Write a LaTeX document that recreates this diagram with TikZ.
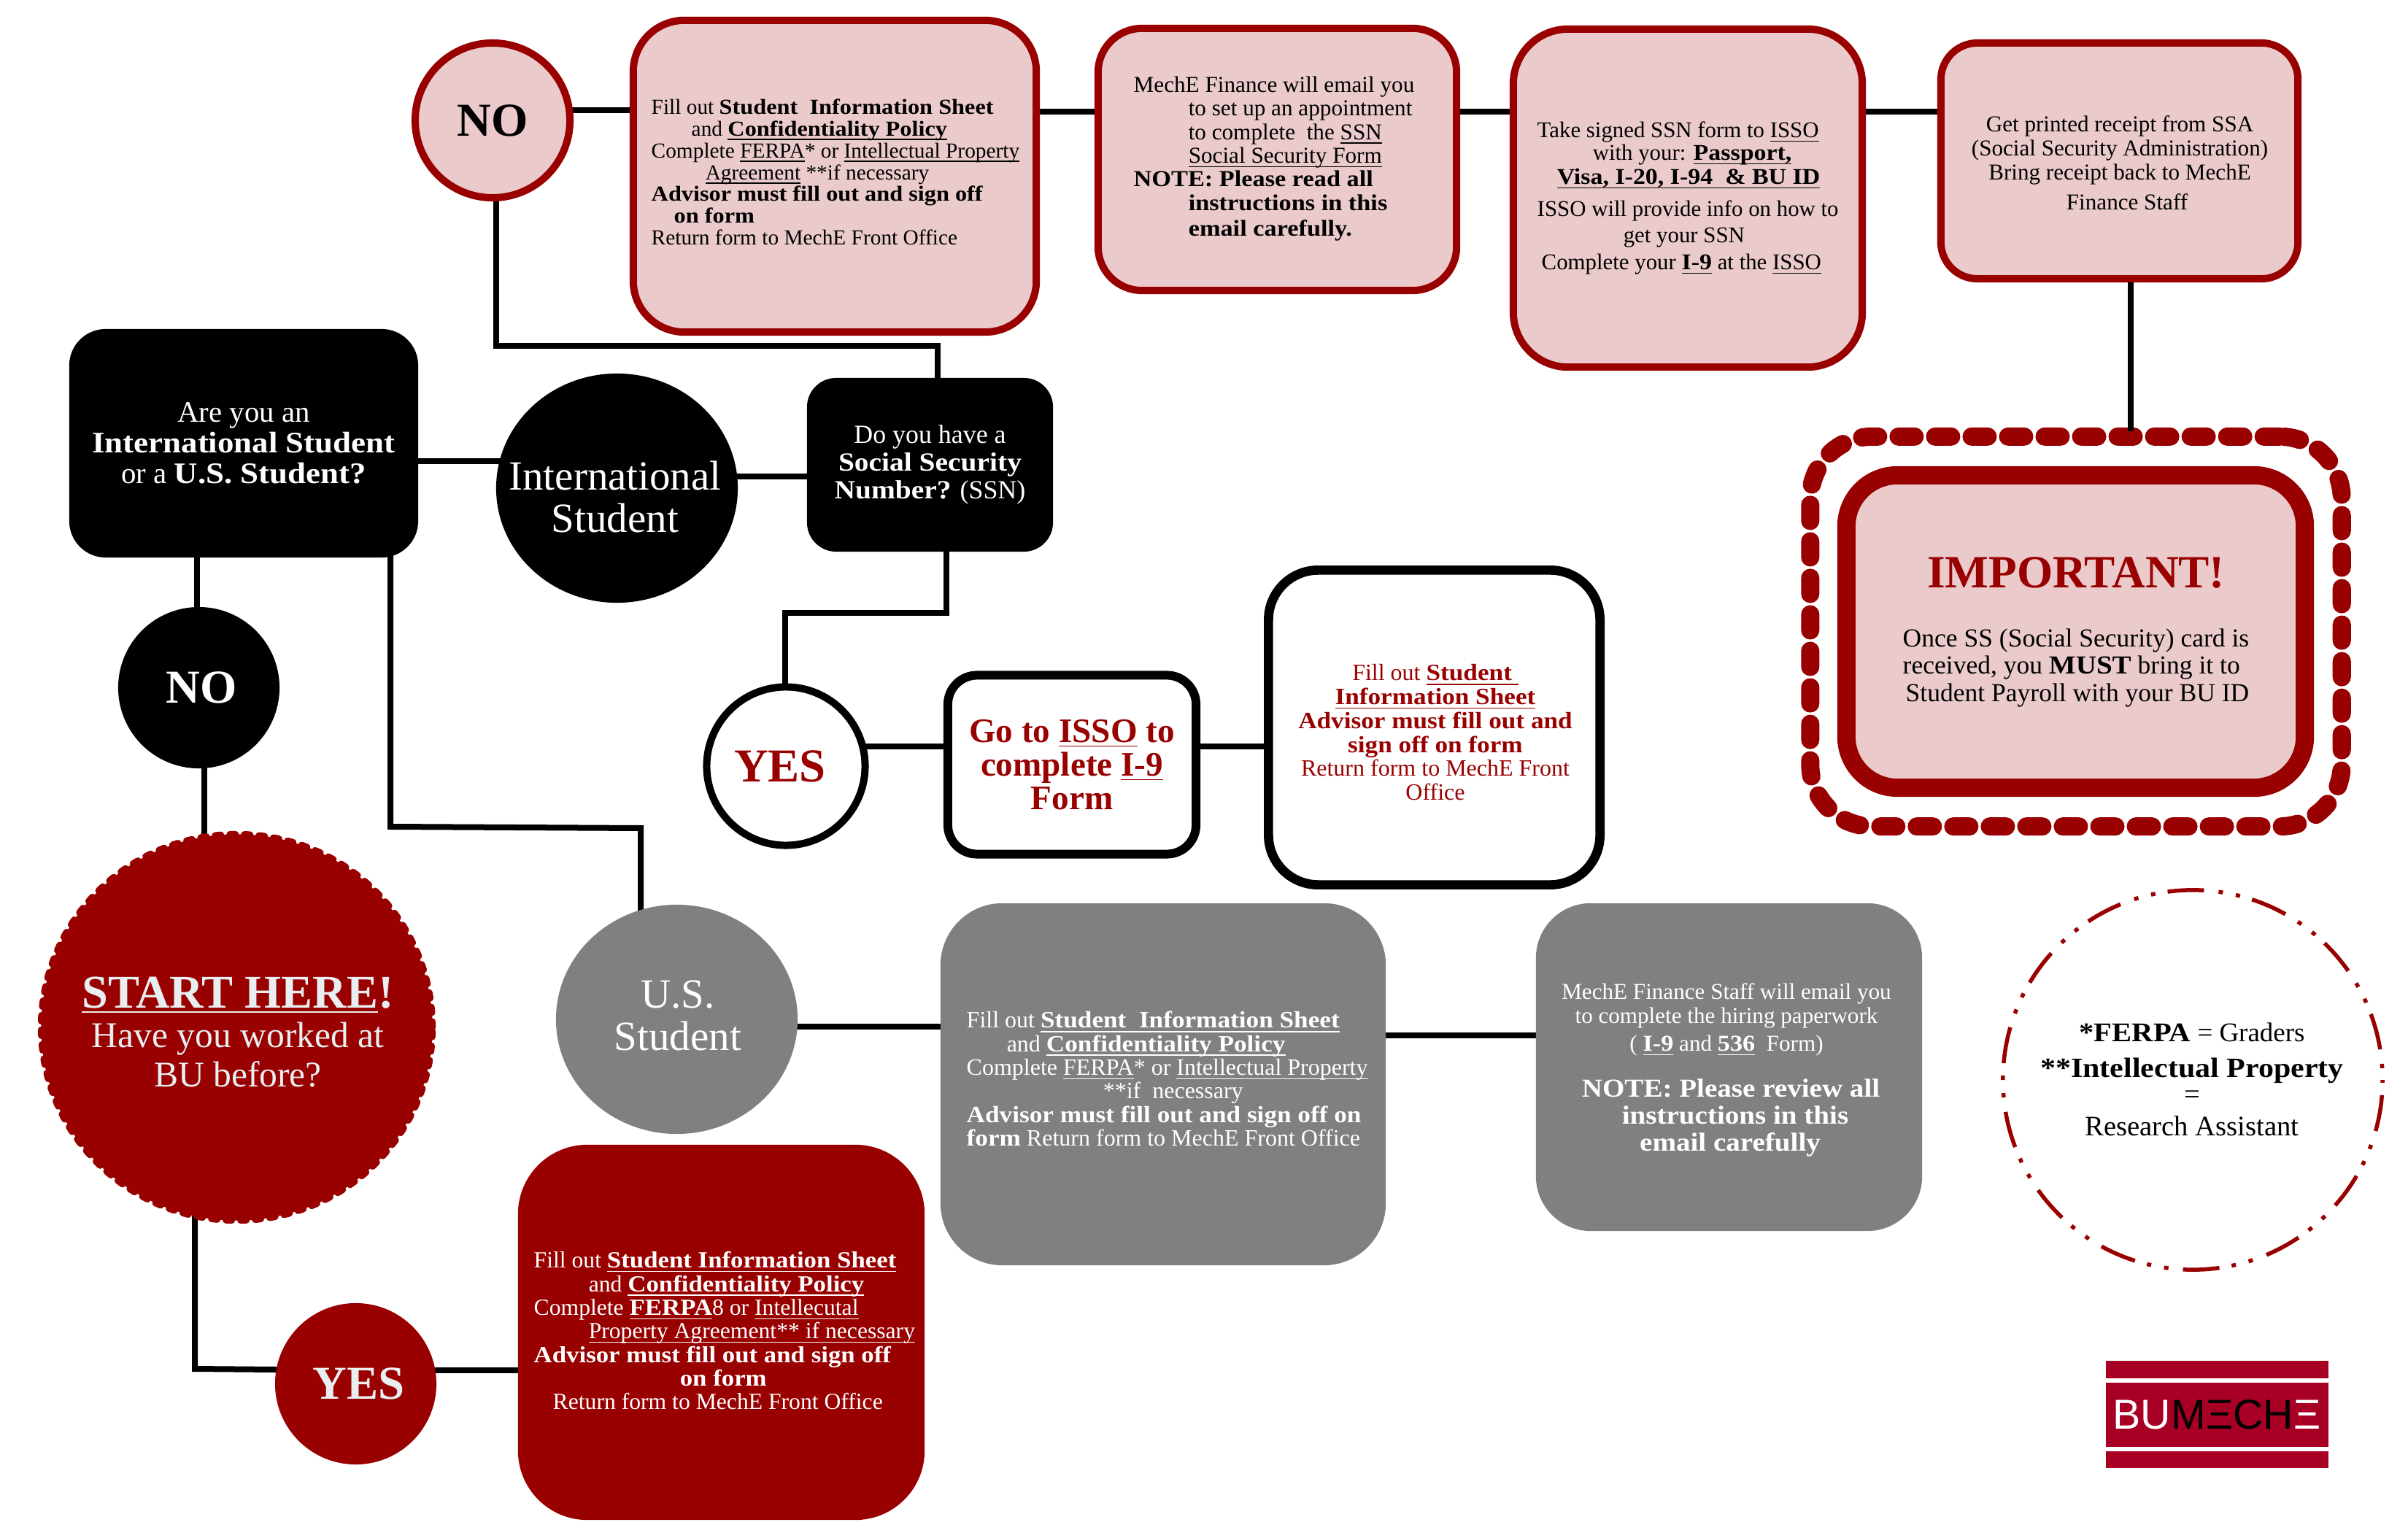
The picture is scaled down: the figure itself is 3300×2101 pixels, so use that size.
\documentclass[tikz,border=0pt]{standalone}
\usepackage{fontspec}
\setmainfont{Liberation Serif}[BoldFeatures={FakeStretch=1.1}]
\setsansfont{Liberation Sans}
\newfontfamily\plainrm{Liberation Serif}
\usetikzlibrary{shapes.geometric,backgrounds}
\definecolor{cred}{HTML}{990000}
\definecolor{cpink}{HTML}{EACACB}
\definecolor{cgray}{HTML}{808080}
\definecolor{clogo}{HTML}{A80024}
\definecolor{csnow}{HTML}{E9EEF0}
\newcommand{\fs}[2]{\fontsize{#1}{#2}\selectfont\lineskiplimit=-20pt\relax}
\newcommand{\ul}[1]{\underline{\smash{#1}}}

\begin{document}
\begin{tikzpicture}[x=0.01cm,y=-0.01cm,
  pink node/.style={rectangle,fill=cpink,draw=cred,line width=0.1cm},
  black node/.style={rectangle,fill=black,text=white,inner sep=0},
  gray node/.style={rectangle,fill=cgray,text=white,inner sep=0},
  round node/.style={circle,inner sep=0,minimum size=2.21cm,font=\fs{18.4}{20}\plainrm\bfseries},
  big node/.style={ellipse,inner sep=0,minimum width=3.31cm,minimum height=3.14cm},
  big text/.style={inner sep=0,align=center,font=\fs{16.2}{16.4}},
  body/.style={inner sep=0,align=left,anchor=north west},
  wire/.style={line width=0.08cm}]

  \useasboundingbox (0,0) rectangle (3300,2101);

  % top row
  \node[round node,fill=cpink,draw=cred,line width=0.1cm,minimum size=2.12cm] (no1) at (675,165) {NO};
  \node[pink node,minimum width=5.52cm,minimum height=4.27cm,rounded corners=0.7cm] (form) at (1144,241.5) {};
  \node[pink node,minimum width=4.91cm,minimum height=3.59cm,rounded corners=0.6cm] (mail) at (1750.5,218.5) {};
  \node[pink node,minimum width=4.78cm,minimum height=4.63cm,rounded corners=0.75cm] (ssnform) at (2313,271.5) {};
  \node[pink node,minimum width=4.89cm,minimum height=3.23cm,rounded corners=0.5cm] (receipt) at (2904.5,220.5) {};

  \node[body,font=\fs{8.35}{8.5}] (formtext) at (892,135) {Fill out \textbf{Student\ \ Information Sheet}\\
    \hspace*{0.55cm}and \textbf{\ul{Confidentiality Policy}}\\
    Complete \ul{FERPA}* or \ul{Intellectual Property}\\
    \hspace*{0.74cm}\ul{Agreement} **if necessary\\
    \textbf{Advisor must fill out and sign off}\\
    \hspace*{0.31cm}\textbf{on form}\\
    Return form to MechE Front Office};
  \node[body,font=\fs{8.87}{9.2}] (mailtext) at (1553,104) {MechE Finance will email you\\
    \hspace*{0.75cm}to set up an appointment\\
    \hspace*{0.75cm}to complete\ \ the \ul{SSN}\\
    \hspace*{0.75cm}\ul{Social Security Form}\\
    \textbf{NOTE: Please read all}\\
    \hspace*{0.75cm}\textbf{instructions in this}\\[1pt]
    \hspace*{0.75cm}\textbf{email carefully.}};
  \node[body,font=\fs{8.77}{9.4}] (ssntext) at (2106,166) {Take signed SSN form to \ul{ISSO}\\[-0.6pt]
    \hspace*{0.76cm}with your: \textbf{\ul{Passport,}}\\
    \hspace*{0.27cm}\textbf{\ul{Visa, I-20, I-94\ \ \& BU ID}}\\[3.1pt]
    ISSO will provide info on how to\\[1pt]
    \hspace*{1.18cm}get your SSN\\[1pt]
    \hspace*{0.06cm}Complete your \textbf{\ul{I-9}} at the \ul{ISSO}};
  \node[body,align=center,anchor=north,font=\fs{8.85}{9.4}] (receipttext) at (2905,158) {Get printed receipt from SSA\\
    (Social Security Administration)\\
    Bring receipt back to MechE\\[2.3pt]
    \hspace*{0.2cm}Finance Staff};

  % important card
  \node[pink node,line width=0.25cm,minimum width=6.28cm,minimum height=4.28cm,rounded corners=0.7cm] (card) at (2844.5,865.5) {};
  \node[rectangle,draw=cred,line width=0.25cm,line cap=round,dash pattern=on 0.22cm off 0.28cm,minimum width=7.28cm,minimum height=5.34cm,rounded corners=0.85cm] (ring) at (2845,865.5) {};
  \node[inner sep=0,text=cred,font=\fs{18}{18}\plainrm\bfseries] (cardhead) at (2845,785) {IMPORTANT!};
  \node[body,font=\fs{10.1}{10.67}] (cardtext) at (2607,861) {Once SS (Social Security) card is\\
    received, you \textbf{MUST} bring it to\\
    \hspace*{0.04cm}Student Payroll with your BU ID};

  % left column
  \node[black node,minimum width=4.78cm,minimum height=3.13cm,rounded corners=0.5cm,align=center,font=\fs{11.6}{12}] (ask) at (334,607.5) {Are you an\\\textbf{International Student}\\or a \textbf{U.S. Student?}};
  \node[big node,fill=black] (intl) at (845.5,669) {};
  \node[big text,text=white] (intltext) at (843,681) {International\\Student};
  \node[black node,minimum width=3.37cm,minimum height=2.38cm,rounded corners=0.4cm,align=center,font=\fs{10.2}{10.8}] (ssn) at (1274.5,637) {Do you have a\\\textbf{Social Security}\\\textbf{Number?} (SSN)};
  \node[round node,fill=black,text=white] (no2) at (272.5,942.5) {\hspace*{0.08cm}NO};
  \node[ellipse,fill=cred,draw=cred,line width=0.09cm,line cap=round,dash pattern=on 0.08cm off 0.12cm,inner sep=0,minimum width=5.36cm,minimum height=5.29cm] (start) at (324.5,1408) {};
  \node[inner sep=0,align=center,text=csnow,font=\fs{14.1}{15.3}] (starttext) at (326,1415) {{\fs{18.3}{15.3}\plainrm\bfseries\ul{START HERE}!}\\Have you worked at\\BU before?};
  \node[round node,fill=cred,text=csnow] (yes2) at (487.5,1896.5) {\hspace*{0.08cm}YES};
  \node[rectangle,fill=cred,text=white,minimum width=5.57cm,minimum height=5.14cm,rounded corners=0.95cm] (redbox) at (988.5,1826) {};
  \node[body,text=white,font=\fs{9}{9.2}] (redtext) at (731,1715) {Fill out \textbf{\ul{Student Information Sheet}}\\
    \hspace*{0.75cm}and \textbf{\ul{Confidentiality Policy}}\\
    Complete \textbf{\ul{FERPA}}8 or \ul{Intellecutal}\\
    \hspace*{0.75cm}\ul{Property Agreement** if necessary}\\
    \textbf{Advisor must fill out and sign off}\\
    \hspace*{2cm}\textbf{on form}\\
    \hspace*{0.26cm}Return form to MechE Front Office};

  % middle
  \node[round node,fill=white,draw=black,line width=0.1cm,text=cred,minimum size=2.17cm] (yes1) at (1077,1050) {YES\hspace*{0.16cm}};
  \node[rectangle,fill=white,draw=black,line width=0.12cm,minimum width=3.4cm,minimum height=2.45cm,rounded corners=0.4cm,align=center,text=cred,font=\fs{13.4}{13.1}\plainrm\bfseries] (go) at (1469,1048) {Go to \ul{ISSO} to\\complete \ul{I-9}\\Form};
  \node[rectangle,fill=white,draw=black,line width=0.127cm,minimum width=4.54cm,minimum height=4.31cm,rounded corners=0.68cm] (isso) at (1965.5,997) {};
  \node[body,align=center,anchor=north,text=cred,font=\fs{9.1}{9.3}] (issotext) at (1967,910) {Fill out \textbf{\ul{Student\ }}\\
    \textbf{\ul{Information Sheet}}\\
    \textbf{Advisor must fill out and}\\
    \textbf{sign off on form}\\
    Return form to MechE Front\\
    Office};

  % U.S. branch
  \node[big node,fill=cgray] (us) at (927.5,1397) {};
  \node[big text,text=white] (ustext) at (929,1392) {U.S.\\Student};
  \node[gray node,minimum width=6.1cm,minimum height=4.96cm,rounded corners=0.85cm] (fill1) at (1594,1486) {};
  \node[gray node,minimum width=5.29cm,minimum height=4.49cm,rounded corners=0.75cm] (fill2) at (2369.5,1462.5) {};
  \node[body,text=white,font=\fs{9.1}{9.2}] (fill1text) at (1324,1386) {Fill out \textbf{\ul{Student\ \ Information Sheet}}\\
    \hspace*{0.55cm}and \textbf{\ul{Confidentiality Policy}}\\
    Complete \ul{FERPA}* or \ul{Intellectual Property}\\
    \hspace*{1.87cm}{**}if\ \ necessary\\
    \textbf{Advisor must fill out and sign off on}\\
    \textbf{form} Return form to MechE Front Office};
  \node[body,align=center,anchor=north,text=white,font=\fs{8.85}{9.4}] (fill2text) at (2366,1347) {MechE Finance Staff will email you\\
    to complete the hiring paperwork\hspace*{0.16cm}\\[1.4pt]
    ( \textbf{\ul{I-9}} and \textbf{\ul{536}}\ \ Form)\\[8.5pt]
    {\fs{10.1}{9.4}\hspace*{0.12cm}\textbf{NOTE: Please review all}}\\[1.1pt]
    {\fs{10.1}{9.4}\hspace*{0.24cm}\textbf{instructions in this}}\\[1.1pt]
    {\fs{10.1}{9.4}\hspace*{0.1cm}\textbf{email carefully}}};

  % notes
  \node[circle,draw=cred,line width=0.055cm,dash pattern=on 0.5cm off 0.17cm on 0.06cm off 0.18cm on 0.06cm off 0.2cm,dash phase=0.75cm,inner sep=0,minimum size=5.2cm] (note) at (3005,1480) {};
  \node[body,align=center,anchor=north,font=\fs{11}{10.2}] (notetext) at (3004,1401) {{\fs{10.5}{10.2}\textbf{*FERPA} = Graders}\\[3.7pt]
    {\fs{10.86}{10.2}\textbf{{**}Intellectual Property}}\\
    =\\[2.3pt]
    Research Assistant};

  % logo
  \node[rectangle,fill=clogo,inner sep=0,minimum width=3.05cm,minimum height=1.47cm] (logo) at (3038.5,1938.5) {};
  \fill[white] (logo.west |- 0,1889) rectangle (logo.east |- 0,1895);
  \fill[white] (logo.west |- 0,1983) rectangle (logo.east |- 0,1989);
  \node[inner sep=0,font=\fs{16.3}{17}\sffamily] (logotext) at (3038,1938.5) {\textcolor{white}{BU}MΞCH\textcolor{white}{Ξ}};

  % connectors
  \begin{scope}[on background layer]
    \path[wire]
      (no1 |- 0,151) edge (form |- 0,151)
      (form |- 0,153) edge (mail |- 0,153)
      (mail |- 0,153) edge (ssnform |- 0,153)
      (ssnform |- 0,153) edge (receipt |- 0,153)
      (ask |- 0,632) edge (intl |- 0,632)
      (intl |- 0,653) edge (ssn |- 0,653)
      (yes1 |- 0,1023) edge (go |- 0,1023)
      (go |- 0,1023) edge (isso |- 0,1023)
      (ask -| 270,0) edge (no2 -| 270,0)
      (no2 -| 280,0) edge (start -| 280,0)
      (us |- 0,1407) edge (fill1 |- 0,1407)
      (fill1 |- 0,1419) edge (fill2 |- 0,1419)
      (yes2 |- 0,1878) edge (redbox |- 0,1878);
    \draw[wire] (ssn -| 1285,0) -- (1285,474) -- (680,474) -- (no1 -| 680,0);
    \draw[wire] (ssn -| 1297,0) -- (1297,840) -- (1076,840) -- (yes1 -| 1076,0);
    \draw[wire] (ask -| 535,0) -- (535,1133) -- (878,1135) -- (us -| 878,0);
    \draw[wire] (start -| 267,0) -- (267,1876) -- (yes2 |- 0,1878);
  \end{scope}
  \draw[wire] (receipt.south -| 2920,0) -- (2920,591);
\end{tikzpicture}
\end{document}
